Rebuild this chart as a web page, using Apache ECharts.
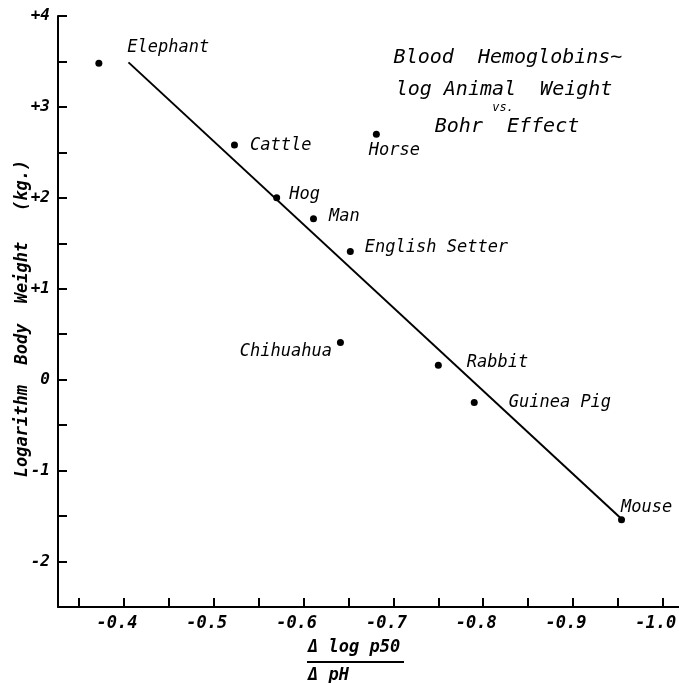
<!DOCTYPE html>
<html>
<head>
<meta charset="utf-8">
<script src="https://cdn.jsdelivr.net/npm/echarts@6/dist/echarts.min.js"></script>
<style>
html,body{margin:0;padding:0;background:#fff;}
#chart{width:679px;height:683px;}
</style>
</head>
<body>
<div id="chart"></div>
<script>
// ---- data ----
const animals = ['Elephant','Cattle','Hog','Man','English Setter','Horse','Chihuahua','Rabbit','Guinea Pig','Mouse'];
const bohrEffect = [-0.372,-0.523,-0.570,-0.611,-0.652,-0.681,-0.641,-0.750,-0.790,-0.954];
const logWeight = [3.48,2.58,2.00,1.77,1.41,2.70,0.41,0.16,-0.25,-1.54];
const fitLineX = [-0.405,-0.955];
const fitLineY = [3.49,-1.54];
const xTickLabels = [-0.4,-0.5,-0.6,-0.7,-0.8,-0.9,-1.0];
const xMinorTicks = [-0.35,-0.4,-0.45,-0.5,-0.55,-0.6,-0.65,-0.7,-0.75,-0.8,-0.85,-0.9,-0.95,-1.0];
const yTickLabels = [-2,-1,0,1,2,3,4];
const titleLines = ['Blood  Hemoglobins~','log Animal  Weight','vs.','Bohr  Effect'];
const yAxisTitle = 'Logarithm  Body  Weight   (kg.)';
const xAxisNumerator = 'Δ log p50';
const xAxisDenominator = 'Δ pH';

// ---- styles ----
const FONT = '"DejaVu Sans Mono"';
const labelStyle = {
  'Elephant':      {position:'right', distance:25, offset:[0,-16]},
  'Cattle':        {position:'right', distance:12, offset:[0,0]},
  'Hog':           {position:'right', distance:9,  offset:[0,-3]},
  'Man':           {position:'right', distance:12, offset:[0,-2]},
  'English Setter':{position:'right', distance:11, offset:[0,-4]},
  'Horse':         {position:'bottom',distance:4,  offset:[18,0]},
  'Chihuahua':     {position:'left',  distance:5,  offset:[0,9]},
  'Rabbit':        {position:'right', distance:25, offset:[0,-3]},
  'Guinea Pig':    {position:'right', distance:31, offset:[0,0]},
  'Mouse':         {position:'right', distance:0,  offset:[-4,-12]}
};

const scatterData = animals.map((name,i)=>({
  name: name,
  value: [bohrEffect[i], logWeight[i]],
  label: Object.assign({show:true, formatter:name, color:'#000'}, labelStyle[name])
}));
const lineData = fitLineX.map((x,i)=>[x, fitLineY[i]]);

const chart = echarts.init(document.getElementById('chart'));
const option = {
  backgroundColor:'#fff',
  animation:false,
  grid:{left:58, right:0, top:16, bottom:76, containLabel:false, outerBoundsMode:'none'},
  xAxis:{
    type:'value', inverse:true, min:-1.018, max:-0.3265,
    axisLine:{onZero:false, lineStyle:{color:'#000', width:2}},
    axisTick:{inside:true, length:9, lineStyle:{color:'#000', width:2}, customValues:xMinorTicks},
    axisLabel:{customValues:xTickLabels, formatter:v=>v.toFixed(1), color:'#000', fontFamily:FONT, fontStyle:'italic', fontWeight:'bold', fontSize:17, margin:8, padding:[0,14,0,0], hideOverlap:false, showMaxLabel:true, showMinLabel:true},
    splitLine:{show:false}
  },
  yAxis:{
    type:'value', min:-2.5, max:4, interval:0.5,
    axisLine:{onZero:false, lineStyle:{color:'#000', width:2}},
    axisTick:{inside:true, length:9, lineStyle:{color:'#000', width:2}},
    axisLabel:{customValues:yTickLabels, formatter:v=> v>0 ? '+'+v : String(v), color:'#000', fontFamily:FONT, fontStyle:'italic', fontWeight:'bold', fontSize:16, margin:8},
    splitLine:{show:false},
    name:yAxisTitle, nameLocation:'middle', nameGap:27, nameMoveOverlap:false,
    nameTextStyle:{color:'#000', fontFamily:FONT, fontStyle:'italic', fontWeight:'bold', fontSize:17, padding:[0,14,0,0]}
  },
  series:[
    {
      type:'line', data:lineData, showSymbol:false, symbol:'none',
      lineStyle:{color:'#000', width:2}, silent:true, z:2
    },
    {
      type:'scatter', data:scatterData, symbol:'circle', symbolSize:7,
      itemStyle:{color:'#000', opacity:1},
      label:{color:'#000', fontFamily:FONT, fontStyle:'italic', fontSize:17},
      z:3
    }
  ],
  graphic:[
    {type:'text', x:508, y:58, style:{text:titleLines[0], align:'center', verticalAlign:'middle', fill:'#000', font:'italic 20px "DejaVu Sans Mono"'}},
    {type:'text', x:504, y:90, style:{text:titleLines[1], align:'center', verticalAlign:'middle', fill:'#000', font:'italic 20px "DejaVu Sans Mono"'}},
    {type:'text', x:503, y:108, style:{text:titleLines[2], align:'center', verticalAlign:'middle', fill:'#000', font:'italic 12px "DejaVu Sans Mono"'}},
    {type:'text', x:507, y:127, style:{text:titleLines[3], align:'center', verticalAlign:'middle', fill:'#000', font:'italic 20px "DejaVu Sans Mono"'}},
    {type:'text', x:308, y:648, style:{text:xAxisNumerator, align:'left', verticalAlign:'middle', fill:'#000', font:'italic bold 17px "DejaVu Sans Mono"'}},
    {type:'line', shape:{x1:307, y1:662, x2:404, y2:662}, style:{stroke:'#000', lineWidth:2}},
    {type:'text', x:308, y:676, style:{text:xAxisDenominator, align:'left', verticalAlign:'middle', fill:'#000', font:'italic bold 17px "DejaVu Sans Mono"'}}
  ]
};
chart.setOption(option);
</script>
</body>
</html>
